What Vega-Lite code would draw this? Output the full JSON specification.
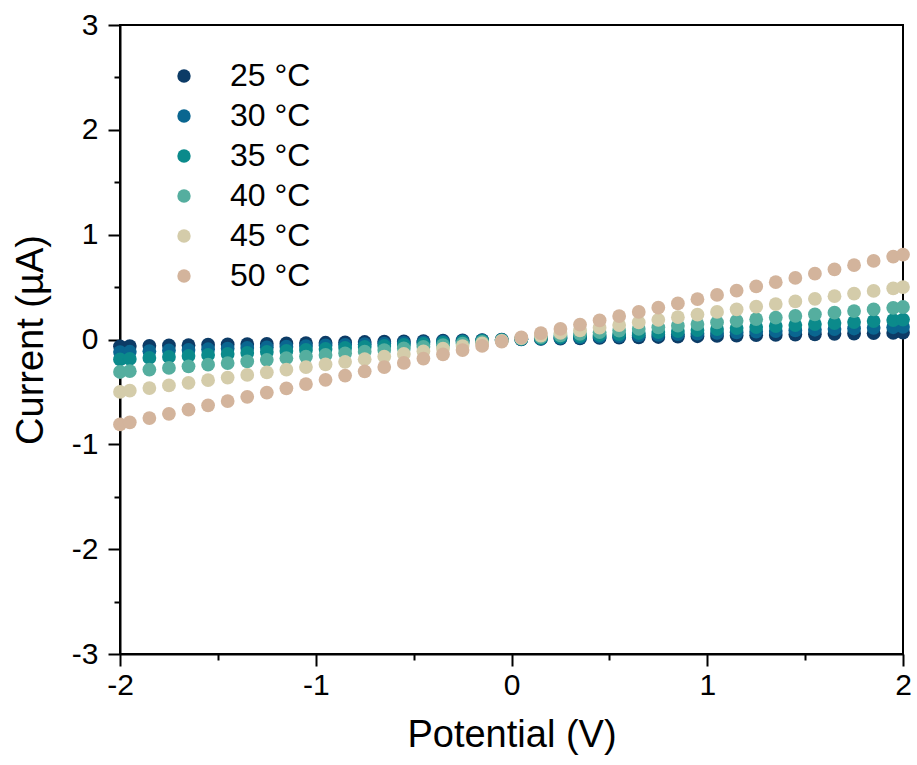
{
  "$schema": "https://vega.github.io/schema/vega-lite/v6.json",
  "width": 783,
  "height": 629,
  "autosize": "none",
  "padding": {"left": 120, "top": 25, "right": 14, "bottom": 111},
  "background": "white",
  "config": {
    "view": {"stroke": "black", "strokeWidth": 2},
    "font": "Liberation Sans"
  },
  "data": {"values": [
    {"V":-2,"I":-0.065,"T":"25 °C"},{"V":-1.95,"I":-0.063,"T":"25 °C"},{"V":-1.85,"I":-0.06,"T":"25 °C"},{"V":-1.75,"I":-0.057,"T":"25 °C"},{"V":-1.65,"I":-0.054,"T":"25 °C"},{"V":-1.55,"I":-0.05,"T":"25 °C"},{"V":-1.45,"I":-0.047,"T":"25 °C"},{"V":-1.35,"I":-0.044,"T":"25 °C"},{"V":-1.25,"I":-0.041,"T":"25 °C"},{"V":-1.15,"I":-0.037,"T":"25 °C"},{"V":-1.05,"I":-0.034,"T":"25 °C"},{"V":-0.95,"I":-0.031,"T":"25 °C"},{"V":-0.85,"I":-0.028,"T":"25 °C"},{"V":-0.75,"I":-0.024,"T":"25 °C"},{"V":-0.65,"I":-0.021,"T":"25 °C"},{"V":-0.55,"I":-0.018,"T":"25 °C"},{"V":-0.45,"I":-0.015,"T":"25 °C"},{"V":-0.35,"I":-0.011,"T":"25 °C"},{"V":-0.25,"I":-0.008,"T":"25 °C"},{"V":-0.15,"I":-0.005,"T":"25 °C"},{"V":-0.05,"I":-0.002,"T":"25 °C"},
    {"V":0.05,"I":0.002,"T":"25 °C"},{"V":0.15,"I":0.005,"T":"25 °C"},{"V":0.25,"I":0.008,"T":"25 °C"},{"V":0.35,"I":0.011,"T":"25 °C"},{"V":0.45,"I":0.015,"T":"25 °C"},{"V":0.55,"I":0.018,"T":"25 °C"},{"V":0.65,"I":0.021,"T":"25 °C"},{"V":0.75,"I":0.024,"T":"25 °C"},{"V":0.85,"I":0.028,"T":"25 °C"},{"V":0.95,"I":0.031,"T":"25 °C"},{"V":1.05,"I":0.034,"T":"25 °C"},{"V":1.15,"I":0.037,"T":"25 °C"},{"V":1.25,"I":0.041,"T":"25 °C"},{"V":1.35,"I":0.044,"T":"25 °C"},{"V":1.45,"I":0.047,"T":"25 °C"},{"V":1.55,"I":0.05,"T":"25 °C"},{"V":1.65,"I":0.054,"T":"25 °C"},{"V":1.75,"I":0.057,"T":"25 °C"},{"V":1.85,"I":0.06,"T":"25 °C"},{"V":1.95,"I":0.063,"T":"25 °C"},{"V":2,"I":0.065,"T":"25 °C"},

    {"V":-2,"I":-0.12,"T":"30 °C"},{"V":-1.95,"I":-0.117,"T":"30 °C"},{"V":-1.85,"I":-0.111,"T":"30 °C"},{"V":-1.75,"I":-0.105,"T":"30 °C"},{"V":-1.65,"I":-0.099,"T":"30 °C"},{"V":-1.55,"I":-0.093,"T":"30 °C"},{"V":-1.45,"I":-0.087,"T":"30 °C"},{"V":-1.35,"I":-0.081,"T":"30 °C"},{"V":-1.25,"I":-0.075,"T":"30 °C"},{"V":-1.15,"I":-0.069,"T":"30 °C"},{"V":-1.05,"I":-0.063,"T":"30 °C"},{"V":-0.95,"I":-0.057,"T":"30 °C"},{"V":-0.85,"I":-0.051,"T":"30 °C"},{"V":-0.75,"I":-0.045,"T":"30 °C"},{"V":-0.65,"I":-0.039,"T":"30 °C"},{"V":-0.55,"I":-0.033,"T":"30 °C"},{"V":-0.45,"I":-0.027,"T":"30 °C"},{"V":-0.35,"I":-0.021,"T":"30 °C"},{"V":-0.25,"I":-0.015,"T":"30 °C"},{"V":-0.15,"I":-0.009,"T":"30 °C"},{"V":-0.05,"I":-0.003,"T":"30 °C"},
    {"V":0.05,"I":0.003,"T":"30 °C"},{"V":0.15,"I":0.009,"T":"30 °C"},{"V":0.25,"I":0.015,"T":"30 °C"},{"V":0.35,"I":0.021,"T":"30 °C"},{"V":0.45,"I":0.027,"T":"30 °C"},{"V":0.55,"I":0.033,"T":"30 °C"},{"V":0.65,"I":0.039,"T":"30 °C"},{"V":0.75,"I":0.045,"T":"30 °C"},{"V":0.85,"I":0.051,"T":"30 °C"},{"V":0.95,"I":0.057,"T":"30 °C"},{"V":1.05,"I":0.063,"T":"30 °C"},{"V":1.15,"I":0.069,"T":"30 °C"},{"V":1.25,"I":0.075,"T":"30 °C"},{"V":1.35,"I":0.081,"T":"30 °C"},{"V":1.45,"I":0.087,"T":"30 °C"},{"V":1.55,"I":0.093,"T":"30 °C"},{"V":1.65,"I":0.099,"T":"30 °C"},{"V":1.75,"I":0.105,"T":"30 °C"},{"V":1.85,"I":0.111,"T":"30 °C"},{"V":1.95,"I":0.117,"T":"30 °C"},{"V":2,"I":0.12,"T":"30 °C"},

    {"V":-2,"I":-0.19,"T":"35 °C"},{"V":-1.95,"I":-0.185,"T":"35 °C"},{"V":-1.85,"I":-0.176,"T":"35 °C"},{"V":-1.75,"I":-0.166,"T":"35 °C"},{"V":-1.65,"I":-0.157,"T":"35 °C"},{"V":-1.55,"I":-0.147,"T":"35 °C"},{"V":-1.45,"I":-0.138,"T":"35 °C"},{"V":-1.35,"I":-0.128,"T":"35 °C"},{"V":-1.25,"I":-0.119,"T":"35 °C"},{"V":-1.15,"I":-0.109,"T":"35 °C"},{"V":-1.05,"I":-0.1,"T":"35 °C"},{"V":-0.95,"I":-0.09,"T":"35 °C"},{"V":-0.85,"I":-0.081,"T":"35 °C"},{"V":-0.75,"I":-0.071,"T":"35 °C"},{"V":-0.65,"I":-0.062,"T":"35 °C"},{"V":-0.55,"I":-0.052,"T":"35 °C"},{"V":-0.45,"I":-0.043,"T":"35 °C"},{"V":-0.35,"I":-0.033,"T":"35 °C"},{"V":-0.25,"I":-0.024,"T":"35 °C"},{"V":-0.15,"I":-0.014,"T":"35 °C"},{"V":-0.05,"I":-0.005,"T":"35 °C"},
    {"V":0.05,"I":0.005,"T":"35 °C"},{"V":0.15,"I":0.014,"T":"35 °C"},{"V":0.25,"I":0.024,"T":"35 °C"},{"V":0.35,"I":0.033,"T":"35 °C"},{"V":0.45,"I":0.043,"T":"35 °C"},{"V":0.55,"I":0.052,"T":"35 °C"},{"V":0.65,"I":0.062,"T":"35 °C"},{"V":0.75,"I":0.071,"T":"35 °C"},{"V":0.85,"I":0.081,"T":"35 °C"},{"V":0.95,"I":0.09,"T":"35 °C"},{"V":1.05,"I":0.1,"T":"35 °C"},{"V":1.15,"I":0.109,"T":"35 °C"},{"V":1.25,"I":0.119,"T":"35 °C"},{"V":1.35,"I":0.128,"T":"35 °C"},{"V":1.45,"I":0.138,"T":"35 °C"},{"V":1.55,"I":0.147,"T":"35 °C"},{"V":1.65,"I":0.157,"T":"35 °C"},{"V":1.75,"I":0.166,"T":"35 °C"},{"V":1.85,"I":0.176,"T":"35 °C"},{"V":1.95,"I":0.185,"T":"35 °C"},{"V":2,"I":0.19,"T":"35 °C"},

    {"V":-2,"I":-0.31,"T":"40 °C"},{"V":-1.95,"I":-0.302,"T":"40 °C"},{"V":-1.85,"I":-0.287,"T":"40 °C"},{"V":-1.75,"I":-0.271,"T":"40 °C"},{"V":-1.65,"I":-0.256,"T":"40 °C"},{"V":-1.55,"I":-0.24,"T":"40 °C"},{"V":-1.45,"I":-0.225,"T":"40 °C"},{"V":-1.35,"I":-0.209,"T":"40 °C"},{"V":-1.25,"I":-0.194,"T":"40 °C"},{"V":-1.15,"I":-0.178,"T":"40 °C"},{"V":-1.05,"I":-0.163,"T":"40 °C"},{"V":-0.95,"I":-0.147,"T":"40 °C"},{"V":-0.85,"I":-0.132,"T":"40 °C"},{"V":-0.75,"I":-0.116,"T":"40 °C"},{"V":-0.65,"I":-0.101,"T":"40 °C"},{"V":-0.55,"I":-0.085,"T":"40 °C"},{"V":-0.45,"I":-0.07,"T":"40 °C"},{"V":-0.35,"I":-0.054,"T":"40 °C"},{"V":-0.25,"I":-0.039,"T":"40 °C"},{"V":-0.15,"I":-0.023,"T":"40 °C"},{"V":-0.05,"I":-0.008,"T":"40 °C"},
    {"V":0.05,"I":0.008,"T":"40 °C"},{"V":0.15,"I":0.023,"T":"40 °C"},{"V":0.25,"I":0.039,"T":"40 °C"},{"V":0.35,"I":0.054,"T":"40 °C"},{"V":0.45,"I":0.07,"T":"40 °C"},{"V":0.55,"I":0.085,"T":"40 °C"},{"V":0.65,"I":0.101,"T":"40 °C"},{"V":0.75,"I":0.116,"T":"40 °C"},{"V":0.85,"I":0.132,"T":"40 °C"},{"V":0.95,"I":0.147,"T":"40 °C"},{"V":1.05,"I":0.163,"T":"40 °C"},{"V":1.15,"I":0.178,"T":"40 °C"},{"V":1.25,"I":0.194,"T":"40 °C"},{"V":1.35,"I":0.209,"T":"40 °C"},{"V":1.45,"I":0.225,"T":"40 °C"},{"V":1.55,"I":0.24,"T":"40 °C"},{"V":1.65,"I":0.256,"T":"40 °C"},{"V":1.75,"I":0.271,"T":"40 °C"},{"V":1.85,"I":0.287,"T":"40 °C"},{"V":1.95,"I":0.302,"T":"40 °C"},{"V":2,"I":0.31,"T":"40 °C"},

    {"V":-2,"I":-0.5,"T":"45 °C"},{"V":-1.95,"I":-0.488,"T":"45 °C"},{"V":-1.85,"I":-0.463,"T":"45 °C"},{"V":-1.75,"I":-0.438,"T":"45 °C"},{"V":-1.65,"I":-0.413,"T":"45 °C"},{"V":-1.55,"I":-0.388,"T":"45 °C"},{"V":-1.45,"I":-0.363,"T":"45 °C"},{"V":-1.35,"I":-0.338,"T":"45 °C"},{"V":-1.25,"I":-0.313,"T":"45 °C"},{"V":-1.15,"I":-0.288,"T":"45 °C"},{"V":-1.05,"I":-0.263,"T":"45 °C"},{"V":-0.95,"I":-0.238,"T":"45 °C"},{"V":-0.85,"I":-0.213,"T":"45 °C"},{"V":-0.75,"I":-0.188,"T":"45 °C"},{"V":-0.65,"I":-0.163,"T":"45 °C"},{"V":-0.55,"I":-0.138,"T":"45 °C"},{"V":-0.45,"I":-0.113,"T":"45 °C"},{"V":-0.35,"I":-0.088,"T":"45 °C"},{"V":-0.25,"I":-0.063,"T":"45 °C"},{"V":-0.15,"I":-0.038,"T":"45 °C"},{"V":-0.05,"I":-0.013,"T":"45 °C"},
    {"V":0.05,"I":0.013,"T":"45 °C"},{"V":0.15,"I":0.038,"T":"45 °C"},{"V":0.25,"I":0.063,"T":"45 °C"},{"V":0.35,"I":0.088,"T":"45 °C"},{"V":0.45,"I":0.113,"T":"45 °C"},{"V":0.55,"I":0.138,"T":"45 °C"},{"V":0.65,"I":0.163,"T":"45 °C"},{"V":0.75,"I":0.188,"T":"45 °C"},{"V":0.85,"I":0.213,"T":"45 °C"},{"V":0.95,"I":0.238,"T":"45 °C"},{"V":1.05,"I":0.263,"T":"45 °C"},{"V":1.15,"I":0.288,"T":"45 °C"},{"V":1.25,"I":0.313,"T":"45 °C"},{"V":1.35,"I":0.338,"T":"45 °C"},{"V":1.45,"I":0.363,"T":"45 °C"},{"V":1.55,"I":0.388,"T":"45 °C"},{"V":1.65,"I":0.413,"T":"45 °C"},{"V":1.75,"I":0.438,"T":"45 °C"},{"V":1.85,"I":0.463,"T":"45 °C"},{"V":1.95,"I":0.488,"T":"45 °C"},{"V":2,"I":0.5,"T":"45 °C"},

    {"V":-2,"I":-0.81,"T":"50 °C"},{"V":-1.95,"I":-0.79,"T":"50 °C"},{"V":-1.85,"I":-0.749,"T":"50 °C"},{"V":-1.75,"I":-0.709,"T":"50 °C"},{"V":-1.65,"I":-0.668,"T":"50 °C"},{"V":-1.55,"I":-0.628,"T":"50 °C"},{"V":-1.45,"I":-0.587,"T":"50 °C"},{"V":-1.35,"I":-0.547,"T":"50 °C"},{"V":-1.25,"I":-0.506,"T":"50 °C"},{"V":-1.15,"I":-0.466,"T":"50 °C"},{"V":-1.05,"I":-0.425,"T":"50 °C"},{"V":-0.95,"I":-0.385,"T":"50 °C"},{"V":-0.85,"I":-0.344,"T":"50 °C"},{"V":-0.75,"I":-0.304,"T":"50 °C"},{"V":-0.65,"I":-0.263,"T":"50 °C"},{"V":-0.55,"I":-0.223,"T":"50 °C"},{"V":-0.45,"I":-0.182,"T":"50 °C"},{"V":-0.35,"I":-0.142,"T":"50 °C"},{"V":-0.25,"I":-0.101,"T":"50 °C"},{"V":-0.15,"I":-0.061,"T":"50 °C"},{"V":-0.05,"I":-0.02,"T":"50 °C"},
    {"V":0.05,"I":0.02,"T":"50 °C"},{"V":0.15,"I":0.061,"T":"50 °C"},{"V":0.25,"I":0.101,"T":"50 °C"},{"V":0.35,"I":0.142,"T":"50 °C"},{"V":0.45,"I":0.182,"T":"50 °C"},{"V":0.55,"I":0.223,"T":"50 °C"},{"V":0.65,"I":0.263,"T":"50 °C"},{"V":0.75,"I":0.304,"T":"50 °C"},{"V":0.85,"I":0.344,"T":"50 °C"},{"V":0.95,"I":0.385,"T":"50 °C"},{"V":1.05,"I":0.425,"T":"50 °C"},{"V":1.15,"I":0.466,"T":"50 °C"},{"V":1.25,"I":0.506,"T":"50 °C"},{"V":1.35,"I":0.547,"T":"50 °C"},{"V":1.45,"I":0.587,"T":"50 °C"},{"V":1.55,"I":0.628,"T":"50 °C"},{"V":1.65,"I":0.668,"T":"50 °C"},{"V":1.75,"I":0.709,"T":"50 °C"},{"V":1.85,"I":0.749,"T":"50 °C"},{"V":1.95,"I":0.79,"T":"50 °C"},{"V":2,"I":0.81,"T":"50 °C"}
  ]},
  "mark": {"type": "point", "filled": true, "opacity": 1, "size": 190, "clip": false},
  "encoding": {
    "x": {
      "field": "V", "type": "quantitative",
      "scale": {"domain": [-2, 2], "nice": false, "zero": false},
      "axis": {
        "title": "Potential (V)",
        "values": [-2, -1.5, -1, -0.5, 0, 0.5, 1, 1.5, 2],
        "labelExpr": "datum.value % 1 === 0 ? '' + datum.value : ''",
        "grid": false,
        "domainColor": "black", "domainWidth": 2,
        "tickColor": "black", "tickWidth": 2,
        "tickSize": {"condition": {"test": "datum.value % 1 !== 0", "value": 6}, "value": 12},
        "labelFont": "Liberation Sans", "labelFontSize": 30, "labelColor": "black",
        "labelPadding": 4, "labelFlush": false, "labelOverlap": false,
        "titleFont": "Liberation Sans", "titleFontSize": 38, "titleFontWeight": "normal", "titleColor": "black",
        "titleBaseline": "alphabetic", "titleY": 92
      }
    },
    "y": {
      "field": "I", "type": "quantitative",
      "scale": {"domain": [-3, 3], "nice": false, "zero": false},
      "axis": {
        "title": "Current (µA)",
        "values": [-3, -2.5, -2, -1.5, -1, -0.5, 0, 0.5, 1, 1.5, 2, 2.5, 3],
        "labelExpr": "datum.value % 1 === 0 ? '' + datum.value : ''",
        "grid": false,
        "domainColor": "black", "domainWidth": 2,
        "tickColor": "black", "tickWidth": 2,
        "tickSize": {"condition": {"test": "datum.value % 1 !== 0", "value": 6}, "value": 12},
        "labelFont": "Liberation Sans", "labelFontSize": 30, "labelColor": "black",
        "labelPadding": 10, "labelFlush": false, "labelOverlap": false,
        "titleFont": "Liberation Sans", "titleFontSize": 38, "titleFontWeight": "normal", "titleColor": "black",
        "titleBaseline": "alphabetic", "titleX": -78
      }
    },
    "color": {
      "field": "T", "type": "nominal",
      "scale": {
        "domain": ["25 °C", "30 °C", "35 °C", "40 °C", "45 °C", "50 °C"],
        "range": ["#0c3b66", "#0a6690", "#0b8a8b", "#55ae9f", "#d4ccaa", "#d3b49c"]
      },
      "legend": {
        "title": null,
        "orient": "none",
        "legendX": 48,
        "legendY": 35,
        "padding": 0,
        "symbolType": "circle",
        "symbolSize": 180,
        "symbolStrokeWidth": 0,
        "symbolOpacity": 1,
        "labelFont": "Liberation Sans",
        "labelFontSize": 32,
        "labelColor": "black",
        "labelOffset": 30,
        "rowPadding": 8,
        "labelLimit": 300
      }
    }
  }
}
